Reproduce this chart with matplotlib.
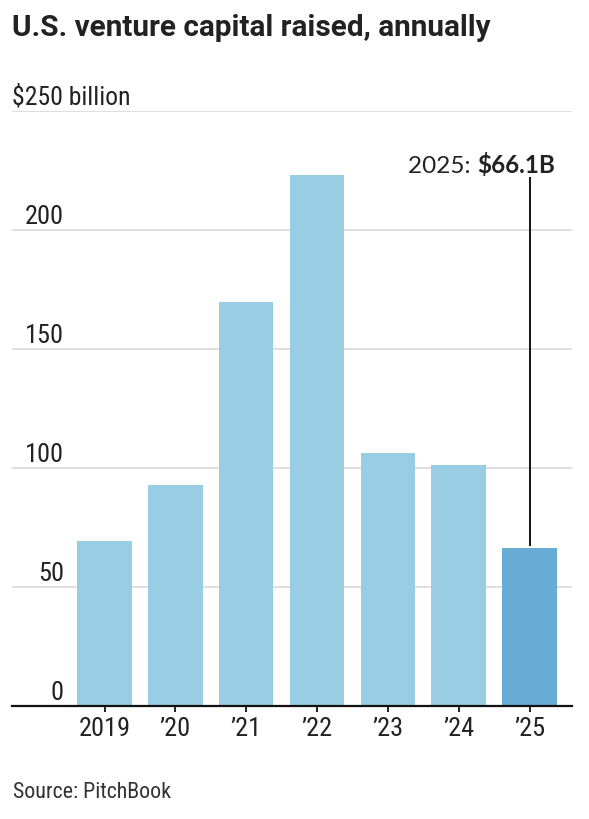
import matplotlib
matplotlib.use("Agg")
import matplotlib.pyplot as plt
from matplotlib import font_manager
from matplotlib.transforms import offset_copy, blended_transform_factory

# ---- data ----
years = ["2019", "’20", "’21", "’22", "’23", "’24", "’25"]
values = [69.2, 92.7, 169.7, 223.0, 106.0, 101.1, 66.1]
y_ticks = [0, 50, 100, 150, 200, 250]
y_tick_labels = ["0", "50", "100", "150", "200", "$250 billion"]
title = "U.S. venture capital raised, annually"
source = "Source: PitchBook"
annot_prefix = "2025: "
annot_value = "$66.1B"

names = {f.name for f in font_manager.fontManager.ttflist}
def pick(*cands):
    for c in cands:
        if c in names:
            return c
    return "DejaVu Sans"

NARROW = [pick("Roboto Condensed", "IBM Plex Sans Condensed", "Fira Sans Condensed", "Liberation Sans"), "DejaVu Sans"]
TITLEF = [pick("Roboto", "Liberation Sans"), "DejaVu Sans"]
REG = [pick("Lato", "Open Sans", "DejaVu Sans"), "DejaVu Sans"]

light = "#99cde4"
dark = "#66acd4"
txt = "#222222"

W, H = 589, 820
fig = plt.figure(figsize=(W / 100, H / 100), dpi=100)
left_px, right_px = 12, 572
zero_px, top_px = 706.7, 111.7
ax = fig.add_axes([left_px / W, 1 - zero_px / H, (right_px - left_px) / W, (zero_px - top_px) / H])

n = len(values)
xs = list(range(n))
colors = [light] * (n - 1) + [dark]
ax.bar(xs, values, width=0.77, color=colors, zorder=2)

ax.set_xlim(-1.306, 6.6)
ax.set_ylim(0, 250)

for s in ["top", "right", "left"]:
    ax.spines[s].set_visible(False)
ax.spines["bottom"].set_linewidth(1.6)
ax.spines["bottom"].set_color("#111111")
ax.spines["bottom"].set_zorder(3)

ax.set_yticks([])
ax.set_xticks(xs)
ax.set_xticklabels(years, fontfamily=NARROW, fontsize=19, color=txt)
ax.tick_params(axis="x", direction="out", length=4.5, width=1.3, color="#111111", pad=3)

for v in y_ticks[1:]:
    ax.axhline(v, color="#d9d9d9", lw=1.2, zorder=1)

trans_lbl = blended_transform_factory(fig.transFigure, ax.transData)
t_lbl = offset_copy(trans_lbl, fig=fig, x=0, y=7, units="dots")
for v, lab in zip(y_ticks, y_tick_labels):
    if v == y_ticks[-1]:
        ax.text(12 / W, v, lab, transform=t_lbl, ha="left", va="baseline",
                fontfamily=NARROW, fontsize=18.5, color=txt)
    else:
        ax.text(64 / W, v, lab, transform=t_lbl, ha="right", va="baseline",
                fontfamily=NARROW, fontsize=19, color=txt)

# annotation for last bar
last = n - 1
line_top = 221.7
ax.plot([last, last], [values[last] + 1.3, line_top], color="#111111", lw=1.4, zorder=3)
bar_right = last + 0.77 / 2
t_ann = offset_copy(ax.transData, fig=fig, x=-2, y=6, units="dots")
bold = ax.text(bar_right, line_top, annot_value, transform=t_ann, ha="right", va="baseline",
               fontfamily=REG, fontweight="bold", fontsize=17.5, color=txt)
fig.canvas.draw()
r = fig.canvas.get_renderer()
bb = bold.get_window_extent(renderer=r)
prefix = fig.text(bb.x0 / W, line_top, annot_prefix, ha="right", va="baseline",
                  fontfamily=REG, fontsize=17.5, color=txt,
                  transform=blended_transform_factory(fig.transFigure, t_ann))

fig.text(12 / W, 1 - 36 / H, title, ha="left", va="baseline",
         fontfamily=TITLEF, fontweight="bold", fontsize=21.4, color=txt)
fig.text(13 / W, 1 - 798 / H, source, ha="left", va="baseline",
         fontfamily=NARROW, fontsize=15.8, color="#333333")

fig.savefig("out.png", dpi=100)
